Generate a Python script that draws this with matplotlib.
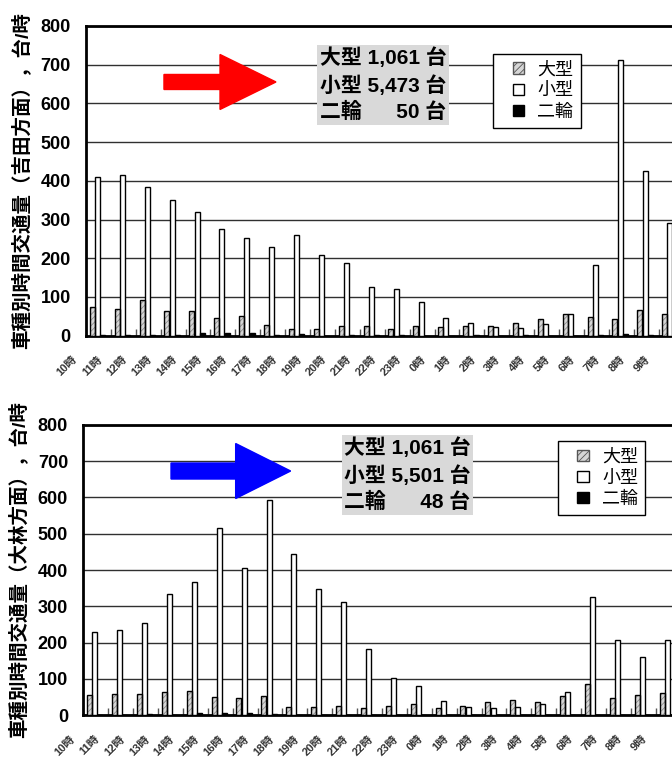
import numpy as np
import matplotlib.pyplot as plt
import matplotlib.patches as mpatches
from matplotlib.legend_handler import HandlerPatch
from matplotlib.transforms import ScaledTranslation

plt.rcParams['font.family'] = ['Liberation Sans', 'Noto Sans CJK JP']
plt.rcParams['hatch.linewidth'] = 0.6

hours = ['10時', '11時', '12時', '13時', '14時', '15時', '16時', '17時',
         '18時', '19時', '20時', '21時', '22時', '23時', '0時', '1時',
         '2時', '3時', '4時', '5時', '6時', '7時', '8時', '9時']

# 吉田方面
yoshida_large = [74, 68, 92, 65, 65, 45, 51, 28, 17, 17, 26, 26,
                 17, 26, 23, 26, 26, 34, 43, 56, 47, 43, 67, 55]
yoshida_small = [409, 416, 383, 350, 320, 275, 253, 230, 259, 208, 187, 125,
                 121, 86, 46, 34, 23, 19, 29, 56, 182, 711, 426, 290]
yoshida_bike = [1, 3, 3, 2, 6, 6, 6, 3, 5, 0, 3, 1,
                1, 0, 0, 1, 0, 1, 0, 0, 2, 5, 1, 0]

# 大林方面
ohbayashi_large = [55, 58, 58, 63, 67, 51, 49, 54, 23, 23, 27, 19,
                   27, 32, 19, 27, 36, 41, 36, 54, 86, 49, 55, 61]
ohbayashi_small = [230, 234, 253, 333, 368, 516, 406, 592, 445, 349, 311, 183,
                   102, 80, 39, 23, 19, 23, 31, 63, 327, 208, 160, 206]
ohbayashi_bike = [1, 2, 3, 1, 6, 6, 6, 3, 2, 1, 2, 2,
                  1, 1, 1, 1, 1, 1, 1, 1, 1, 2, 1, 1]

series_names = ['大型', '小型', '二輪']
yoshida_totals = '大型 1,061 台\n小型 5,473 台\n二輪      50 台'
ohbayashi_totals = '大型 1,061 台\n小型 5,501 台\n二輪      48 台'

LARGE_FACE = '#d6d6d6'
LARGE_HATCH = '#8c8c8c'

fig = plt.figure(figsize=(6.72, 7.69), dpi=100)


def draw(ax, large, small, bike, ylabel):
    x = np.arange(len(hours))
    ax.bar(x - 0.25, large, 0.2, color=LARGE_FACE, hatch='//////',
           edgecolor=LARGE_HATCH, linewidth=0, zorder=3)
    ax.bar(x - 0.25, large, 0.2, fill=False, edgecolor='black', linewidth=1, zorder=4)
    ax.bar(x - 0.04, small, 0.2, color='white', edgecolor='black', linewidth=1, zorder=3)
    ax.bar(x + 0.17, bike, 0.2, color='black', edgecolor='black', linewidth=1, zorder=3)

    ax.set_xlim(-0.5, len(hours) - 0.5)
    ax.set_ylim(0, 800)
    ax.set_yticks(np.arange(0, 801, 100))
    ax.yaxis.grid(True, color='#303030', linewidth=1)
    ax.set_axisbelow(True)
    ax.tick_params(axis='y', length=0, pad=11, labelsize=13)
    for lbl in ax.get_yticklabels():
        lbl.set_fontweight('bold')

    ax.set_xticks(x)
    ax.set_xticklabels(hours, rotation=45, ha='right', va='center',
                       rotation_mode='anchor', fontsize=8, fontweight='bold',
                       color='#333333')
    ax.tick_params(axis='x', which='major', length=0, pad=0)
    ax.set_xticks(np.arange(-0.5, len(hours), 1), minor=True)
    ax.tick_params(axis='x', which='minor', direction='in', length=5,
                   width=1, color='#555555')
    shift = ScaledTranslation(-0.23, -0.22, fig.dpi_scale_trans)
    for lbl in ax.get_xticklabels():
        lbl.set_transform(lbl.get_transform() + shift)

    for side in ['top', 'left', 'bottom']:
        ax.spines[side].set_linewidth(2)
    ax.spines['right'].set_visible(False)

    ax.set_ylabel(ylabel, fontsize=14, fontweight='bold', va='center')
    ax.yaxis.set_label_coords(-0.109, 0.5)


def small_square(legend, orig_handle, xdescent, ydescent, width, height, fontsize):
    s = 0.62 * fontsize
    return mpatches.Rectangle((-xdescent + (width - s) / 2, -ydescent + (height - s) / 2), s, s)


def legend(ax, x0, y0):
    handles = [
        mpatches.Patch(facecolor=LARGE_FACE, hatch='/////', edgecolor='#555555'),
        mpatches.Patch(facecolor='white', edgecolor='black'),
        mpatches.Patch(facecolor='black', edgecolor='black'),
    ]
    leg = ax.legend(handles, series_names, loc='upper left',
                    bbox_to_anchor=(x0, y0), bbox_transform=fig.transFigure,
                    borderaxespad=0, fontsize=13, fancybox=False,
                    edgecolor='black', framealpha=1, handlelength=2.0,
                    handleheight=0.8, handletextpad=0.05, labelspacing=0.22,
                    borderpad=0.4,
                    handler_map={mpatches.Patch: HandlerPatch(patch_func=small_square)})
    leg.get_frame().set_linewidth(1)


ax1 = fig.add_axes([0.128, 0.5635, 0.889, 0.4027])
draw(ax1, yoshida_large, yoshida_small, yoshida_bike,
     '車種別時間交通量（吉田方面），台/時')
legend(ax1, 0.734, 0.930)
fig.text(0.476, 0.938, yoshida_totals, ha='left', va='top', fontsize=15,
         fontweight='bold', linespacing=1.4,
         bbox=dict(boxstyle='square,pad=0.12', facecolor='#d9d9d9', edgecolor='none'))
fig.patches.append(mpatches.FancyArrow(
    0.244, 0.8934, 0.1667, 0, width=0.0195, head_width=0.0715,
    head_length=0.0833, length_includes_head=True, color='#ff0000',
    transform=fig.transFigure, figure=fig))

ax2 = fig.add_axes([0.124, 0.0698, 0.889, 0.3779])
draw(ax2, ohbayashi_large, ohbayashi_small, ohbayashi_bike,
     '車種別時間交通量（大林方面），台/時')
legend(ax2, 0.830, 0.4265)
fig.text(0.512, 0.431, ohbayashi_totals, ha='left', va='top', fontsize=15,
         fontweight='bold', linespacing=1.4,
         bbox=dict(boxstyle='square,pad=0.12', facecolor='#d9d9d9', edgecolor='none'))
fig.patches.append(mpatches.FancyArrow(
    0.2545, 0.3875, 0.178, 0, width=0.0208, head_width=0.0715,
    head_length=0.0818, length_includes_head=True, color='#0000ff',
    transform=fig.transFigure, figure=fig))

fig.savefig('out.png', dpi=100)
